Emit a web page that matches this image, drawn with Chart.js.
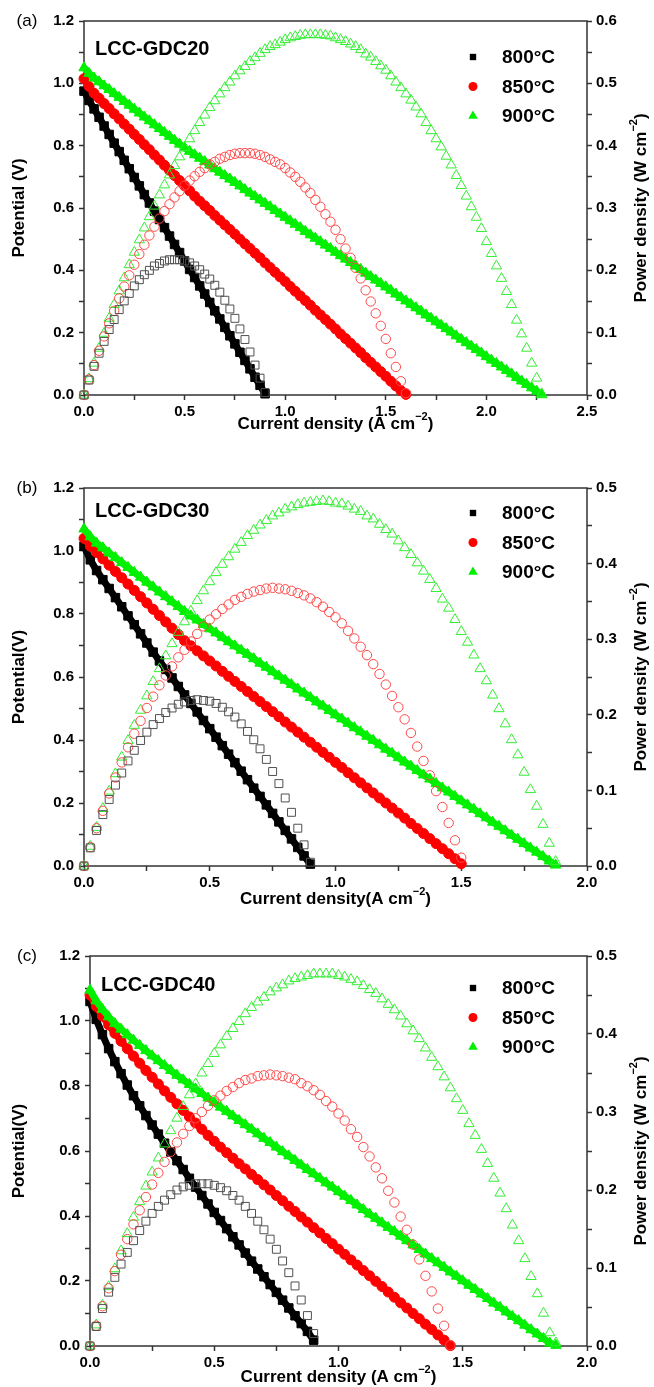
<!DOCTYPE html>
<html>
<head>
<meta charset="utf-8">
<script src="https://cdn.jsdelivr.net/npm/chart.js@4.4.1/dist/chart.umd.min.js"></script>
<style>
  html, body { margin: 0; padding: 0; background: #fff; }
  body { width: 654px; height: 1387px; position: relative; overflow: hidden; }
  canvas { position: absolute; left: 0; }
</style>
</head>
<body>
<canvas id="chartA" width="654" height="462" style="top:0px"></canvas>
<canvas id="chartB" width="654" height="463" style="top:462px"></canvas>
<canvas id="chartC" width="654" height="462" style="top:925px"></canvas>
<script>
// ---- data ----
const temps = ['800°C', '850°C', '900°C'];
const samples = ['LCC-GDC20', 'LCC-GDC30', 'LCC-GDC40'];

const xTicksA = [0, 0.5, 1, 1.5, 2, 2.5];
const xTicksBC = [0, 0.5, 1, 1.5, 2];
const vTicks = [0, 0.2, 0.4, 0.6, 0.8, 1.0, 1.2];
const pTicksA = [0, 0.1, 0.2, 0.3, 0.4, 0.5, 0.6];
const pTicksBC = [0, 0.1, 0.2, 0.3, 0.4, 0.5];

// current density (A cm-2)
const currentA = [0, 0.025, 0.05, 0.075, 0.1, 0.125, 0.15, 0.175, 0.2, 0.225, 0.25, 0.275, 0.3, 0.325, 0.35, 0.375, 0.4, 0.425, 0.45, 0.475,
  0.5, 0.525, 0.55, 0.575, 0.6, 0.625, 0.65, 0.675, 0.7, 0.725, 0.75, 0.775, 0.8, 0.825, 0.85, 0.875, 0.9, 0.925, 0.95, 0.975,
  1, 1.025, 1.05, 1.075, 1.1, 1.125, 1.15, 1.175, 1.2, 1.225, 1.25, 1.275, 1.3, 1.325, 1.35, 1.375, 1.4, 1.425, 1.45, 1.475,
  1.5, 1.525, 1.55, 1.575, 1.6, 1.625, 1.65, 1.675, 1.7, 1.725, 1.75, 1.775, 1.8, 1.825, 1.85, 1.875, 1.9, 1.925, 1.95, 1.975,
  2, 2.025, 2.05, 2.075, 2.1, 2.125, 2.15, 2.175, 2.2, 2.225, 2.25, 2.275];
const currentBC = [0, 0.025, 0.05, 0.075, 0.1, 0.125, 0.15, 0.175, 0.2, 0.225, 0.25, 0.275, 0.3, 0.325, 0.35, 0.375, 0.4, 0.425, 0.45, 0.475,
  0.5, 0.525, 0.55, 0.575, 0.6, 0.625, 0.65, 0.675, 0.7, 0.725, 0.75, 0.775, 0.8, 0.825, 0.85, 0.875, 0.9, 0.925, 0.95, 0.975,
  1, 1.025, 1.05, 1.075, 1.1, 1.125, 1.15, 1.175, 1.2, 1.225, 1.25, 1.275, 1.3, 1.325, 1.35, 1.375, 1.4, 1.425, 1.45, 1.475,
  1.5, 1.525, 1.55, 1.575, 1.6, 1.625, 1.65, 1.675, 1.7, 1.725, 1.75, 1.775, 1.8, 1.825, 1.85, 1.875];

// (a) LCC-GDC20 : potential (V) and power density (W cm-2)
const a800V = [0.975, 0.945, 0.918, 0.891, 0.863, 0.836, 0.808, 0.781, 0.753, 0.726, 0.698, 0.671, 0.643, 0.616, 0.590, 0.563, 0.537, 0.510, 0.483, 0.457,
  0.430, 0.403, 0.377, 0.350, 0.324, 0.297, 0.270, 0.244, 0.217, 0.190, 0.164, 0.137, 0.111, 0.084, 0.057, 0.031, 0.004];
const a800P = [0, 0.024, 0.046, 0.067, 0.086, 0.105, 0.121, 0.137, 0.151, 0.163, 0.175, 0.185, 0.193, 0.200, 0.207, 0.211, 0.215, 0.217, 0.217, 0.217,
  0.215, 0.212, 0.207, 0.201, 0.194, 0.186, 0.176, 0.165, 0.152, 0.138, 0.123, 0.106, 0.089, 0.069, 0.048, 0.027, 0.004];
const a850V = [1.015, 0.990, 0.968, 0.952, 0.935, 0.919, 0.902, 0.886, 0.869, 0.853, 0.836, 0.820, 0.803, 0.787, 0.770, 0.754, 0.737, 0.721, 0.704, 0.688,
  0.671, 0.655, 0.638, 0.622, 0.607, 0.592, 0.576, 0.561, 0.546, 0.531, 0.516, 0.500, 0.485, 0.470, 0.455, 0.440, 0.424, 0.409, 0.394, 0.379,
  0.364, 0.348, 0.333, 0.318, 0.303, 0.288, 0.272, 0.257, 0.242, 0.227, 0.212, 0.196, 0.181, 0.166, 0.151, 0.136, 0.120, 0.105, 0.090, 0.075,
  0.060, 0.044, 0.029, 0.014, 0.002];
const a850P = [0, 0.025, 0.048, 0.071, 0.094, 0.115, 0.135, 0.155, 0.174, 0.192, 0.209, 0.226, 0.241, 0.256, 0.270, 0.283, 0.295, 0.306, 0.317, 0.327,
  0.336, 0.344, 0.351, 0.358, 0.364, 0.370, 0.374, 0.379, 0.382, 0.385, 0.387, 0.388, 0.388, 0.388, 0.387, 0.385, 0.382, 0.378, 0.374, 0.370,
  0.364, 0.357, 0.350, 0.342, 0.333, 0.324, 0.313, 0.302, 0.290, 0.278, 0.265, 0.250, 0.235, 0.220, 0.204, 0.187, 0.168, 0.150, 0.131, 0.111,
  0.090, 0.067, 0.045, 0.022, 0.003];
const a900V = [1.050, 1.032, 1.017, 1.005, 0.992, 0.980, 0.967, 0.955, 0.942, 0.930, 0.917, 0.905, 0.892, 0.880, 0.867, 0.855, 0.842, 0.830, 0.817, 0.805,
  0.793, 0.782, 0.771, 0.760, 0.749, 0.738, 0.726, 0.715, 0.704, 0.693, 0.682, 0.671, 0.659, 0.648, 0.637, 0.626, 0.615, 0.604, 0.592, 0.581,
  0.570, 0.559, 0.548, 0.537, 0.525, 0.514, 0.503, 0.492, 0.481, 0.470, 0.458, 0.447, 0.436, 0.425, 0.414, 0.403, 0.391, 0.380, 0.369, 0.358,
  0.347, 0.336, 0.324, 0.313, 0.302, 0.291, 0.280, 0.269, 0.257, 0.246, 0.235, 0.224, 0.213, 0.202, 0.190, 0.179, 0.168, 0.157, 0.146, 0.135,
  0.123, 0.112, 0.101, 0.090, 0.079, 0.068, 0.056, 0.045, 0.034, 0.023, 0.012, 0.001];
const a900P = [0, 0.026, 0.051, 0.075, 0.099, 0.123, 0.145, 0.167, 0.188, 0.209, 0.229, 0.249, 0.268, 0.286, 0.303, 0.321, 0.337, 0.353, 0.368, 0.382,
  0.397, 0.411, 0.424, 0.437, 0.449, 0.461, 0.472, 0.483, 0.493, 0.502, 0.512, 0.520, 0.527, 0.535, 0.541, 0.548, 0.554, 0.559, 0.562, 0.566,
  0.570, 0.573, 0.575, 0.577, 0.578, 0.578, 0.578, 0.578, 0.577, 0.576, 0.573, 0.570, 0.567, 0.563, 0.559, 0.554, 0.547, 0.542, 0.535, 0.528,
  0.521, 0.512, 0.502, 0.493, 0.483, 0.473, 0.462, 0.451, 0.437, 0.424, 0.411, 0.398, 0.383, 0.369, 0.352, 0.336, 0.319, 0.302, 0.285, 0.267,
  0.246, 0.227, 0.207, 0.187, 0.166, 0.145, 0.120, 0.098, 0.075, 0.051, 0.027, 0.002];

// (b) LCC-GDC30
const b800V = [1.015, 0.972, 0.938, 0.909, 0.881, 0.852, 0.823, 0.794, 0.766, 0.737, 0.708, 0.679, 0.651, 0.624, 0.597, 0.570, 0.543, 0.516, 0.489, 0.462,
  0.436, 0.409, 0.382, 0.355, 0.328, 0.301, 0.274, 0.247, 0.221, 0.194, 0.167, 0.140, 0.113, 0.086, 0.059, 0.032, 0.006];
const b800P = [0, 0.024, 0.047, 0.068, 0.088, 0.107, 0.123, 0.139, 0.153, 0.166, 0.177, 0.187, 0.195, 0.203, 0.209, 0.214, 0.217, 0.219, 0.220, 0.219,
  0.218, 0.215, 0.210, 0.204, 0.197, 0.188, 0.178, 0.167, 0.155, 0.141, 0.125, 0.109, 0.090, 0.071, 0.050, 0.028, 0.005];
const b850V = [1.040, 1.015, 0.995, 0.975, 0.955, 0.935, 0.915, 0.895, 0.875, 0.855, 0.835, 0.815, 0.795, 0.775, 0.755, 0.735, 0.715, 0.699, 0.683, 0.667,
  0.651, 0.635, 0.618, 0.602, 0.586, 0.570, 0.554, 0.538, 0.522, 0.506, 0.490, 0.474, 0.457, 0.441, 0.425, 0.409, 0.393, 0.377, 0.361, 0.345,
  0.329, 0.313, 0.296, 0.280, 0.264, 0.248, 0.232, 0.216, 0.200, 0.184, 0.168, 0.152, 0.135, 0.119, 0.103, 0.087, 0.071, 0.055, 0.039, 0.023,
  0.007];
const b850P = [0, 0.025, 0.050, 0.073, 0.096, 0.117, 0.137, 0.157, 0.175, 0.192, 0.209, 0.224, 0.239, 0.252, 0.264, 0.276, 0.286, 0.297, 0.307, 0.317,
  0.326, 0.333, 0.340, 0.346, 0.352, 0.356, 0.360, 0.363, 0.365, 0.367, 0.368, 0.367, 0.366, 0.364, 0.361, 0.358, 0.354, 0.349, 0.343, 0.336,
  0.329, 0.321, 0.311, 0.301, 0.290, 0.279, 0.267, 0.254, 0.240, 0.225, 0.210, 0.194, 0.176, 0.158, 0.139, 0.120, 0.099, 0.078, 0.057, 0.034,
  0.011];
const b900V = [1.070, 1.045, 1.025, 1.010, 0.994, 0.979, 0.963, 0.948, 0.932, 0.917, 0.901, 0.886, 0.870, 0.855, 0.839, 0.824, 0.808, 0.794, 0.781, 0.767,
  0.753, 0.740, 0.726, 0.712, 0.699, 0.685, 0.672, 0.658, 0.644, 0.631, 0.617, 0.603, 0.590, 0.576, 0.562, 0.549, 0.535, 0.521, 0.508, 0.494,
  0.480, 0.467, 0.453, 0.439, 0.426, 0.412, 0.399, 0.385, 0.371, 0.358, 0.344, 0.330, 0.317, 0.303, 0.289, 0.276, 0.262, 0.248, 0.235, 0.221,
  0.207, 0.194, 0.180, 0.166, 0.153, 0.139, 0.126, 0.112, 0.098, 0.085, 0.071, 0.057, 0.044, 0.030, 0.016, 0.003];
const b900P = [0, 0.026, 0.051, 0.076, 0.099, 0.122, 0.144, 0.166, 0.186, 0.206, 0.225, 0.244, 0.261, 0.278, 0.294, 0.309, 0.323, 0.337, 0.351, 0.364,
  0.376, 0.388, 0.399, 0.409, 0.419, 0.428, 0.437, 0.444, 0.451, 0.457, 0.463, 0.467, 0.472, 0.475, 0.478, 0.480, 0.481, 0.482, 0.483, 0.482,
  0.480, 0.479, 0.476, 0.472, 0.469, 0.463, 0.459, 0.452, 0.445, 0.439, 0.430, 0.421, 0.412, 0.401, 0.390, 0.379, 0.367, 0.353, 0.341, 0.326,
  0.310, 0.296, 0.279, 0.261, 0.245, 0.226, 0.208, 0.188, 0.167, 0.147, 0.124, 0.101, 0.079, 0.055, 0.030, 0.006];

// (c) LCC-GDC40
const c800V = [1.060, 1.005, 0.958, 0.915, 0.875, 0.838, 0.803, 0.770, 0.739, 0.709, 0.680, 0.652, 0.624, 0.597, 0.570, 0.543, 0.516, 0.489, 0.463, 0.437,
  0.411, 0.386, 0.361, 0.336, 0.311, 0.286, 0.261, 0.237, 0.213, 0.189, 0.165, 0.141, 0.117, 0.093, 0.069, 0.045, 0.018];
const c800P = [0, 0.025, 0.048, 0.069, 0.088, 0.105, 0.120, 0.135, 0.148, 0.160, 0.170, 0.179, 0.187, 0.194, 0.200, 0.204, 0.206, 0.208, 0.208, 0.208,
  0.206, 0.203, 0.199, 0.193, 0.187, 0.179, 0.170, 0.160, 0.149, 0.137, 0.124, 0.109, 0.094, 0.077, 0.059, 0.039, 0.016];
const c850V = [1.080, 1.045, 1.015, 0.988, 0.962, 0.938, 0.915, 0.892, 0.870, 0.848, 0.827, 0.806, 0.785, 0.765, 0.745, 0.725, 0.705, 0.686, 0.667, 0.648,
  0.630, 0.612, 0.595, 0.578, 0.561, 0.545, 0.528, 0.512, 0.496, 0.480, 0.463, 0.447, 0.430, 0.414, 0.397, 0.381, 0.364, 0.348, 0.331, 0.315,
  0.298, 0.282, 0.265, 0.249, 0.232, 0.216, 0.199, 0.183, 0.166, 0.150, 0.133, 0.117, 0.100, 0.084, 0.067, 0.051, 0.034, 0.018, 0.001];
const c850P = [0, 0.026, 0.051, 0.074, 0.096, 0.117, 0.137, 0.156, 0.174, 0.191, 0.207, 0.222, 0.236, 0.249, 0.261, 0.272, 0.282, 0.292, 0.300, 0.308,
  0.315, 0.321, 0.327, 0.332, 0.337, 0.341, 0.343, 0.346, 0.347, 0.348, 0.347, 0.346, 0.344, 0.342, 0.337, 0.333, 0.328, 0.322, 0.314, 0.307,
  0.298, 0.289, 0.278, 0.268, 0.255, 0.243, 0.229, 0.215, 0.199, 0.184, 0.166, 0.149, 0.130, 0.111, 0.090, 0.070, 0.048, 0.026, 0.001];
const c900V = [1.095, 1.062, 1.036, 1.013, 0.992, 0.975, 0.958, 0.941, 0.925, 0.909, 0.893, 0.878, 0.863, 0.848, 0.833, 0.819, 0.805, 0.791, 0.777, 0.763,
  0.749, 0.735, 0.722, 0.708, 0.694, 0.681, 0.667, 0.653, 0.639, 0.626, 0.612, 0.598, 0.585, 0.571, 0.557, 0.543, 0.530, 0.516, 0.502, 0.489,
  0.475, 0.461, 0.448, 0.434, 0.420, 0.406, 0.393, 0.379, 0.365, 0.352, 0.338, 0.324, 0.311, 0.297, 0.283, 0.269, 0.256, 0.242, 0.228, 0.215,
  0.201, 0.187, 0.174, 0.160, 0.146, 0.132, 0.119, 0.105, 0.091, 0.078, 0.064, 0.050, 0.037, 0.023, 0.009, 0.002];
const c900P = [0, 0.027, 0.052, 0.076, 0.099, 0.122, 0.144, 0.165, 0.185, 0.205, 0.223, 0.241, 0.259, 0.276, 0.292, 0.307, 0.322, 0.336, 0.350, 0.362,
  0.375, 0.386, 0.397, 0.407, 0.416, 0.426, 0.434, 0.441, 0.447, 0.454, 0.459, 0.463, 0.468, 0.471, 0.473, 0.475, 0.477, 0.477, 0.477, 0.477,
  0.475, 0.473, 0.470, 0.467, 0.462, 0.457, 0.452, 0.445, 0.438, 0.431, 0.423, 0.413, 0.404, 0.394, 0.382, 0.370, 0.358, 0.345, 0.331, 0.317,
  0.302, 0.285, 0.270, 0.252, 0.234, 0.215, 0.196, 0.176, 0.155, 0.135, 0.112, 0.089, 0.067, 0.042, 0.017, 0.004];

// ---- styling ----
const FONT = "'Liberation Sans', Arial, Helvetica, sans-serif";
Chart.defaults.font.family = FONT;
Chart.defaults.color = '#000';

const colV = ['#000000', '#ff0000', '#00f000'];
const colP = ['#505050', '#ff4848', '#33ee33'];
const shapes = ['rect', 'circle', 'triangle'];
const radV = [6, 5, 6];
const radP = [5.6, 4.7, 5.9];

const panels = [
  { id: 'chartA', h: 462, tag: '(a)', sample: samples[0], current: currentA,
    volt: [a800V, a850V, a900V], power: [a800P, a850P, a900P],
    xTicks: xTicksA, pTicks: pTicksA,
    xTitle: ['Current density (A cm', '\u22122', ')'], vTitle: 'Potential (V)',
    area: { top: 21, bottom: 395, left: 84, right: 587 }, sampleY: 28, legendY: 36, xTitleY: 29 },
  { id: 'chartB', h: 463, tag: '(b)', sample: samples[1], current: currentBC,
    volt: [b800V, b850V, b900V], power: [b800P, b850P, b900P],
    xTicks: xTicksBC, pTicks: pTicksBC,
    xTitle: ['Current density(A cm', '\u22122', ')'], vTitle: 'Potential(V)',
    area: { top: 26, bottom: 404, left: 84, right: 587 }, sampleY: 23, legendY: 25, xTitleY: 33 },
  { id: 'chartC', h: 462, tag: '(c)', sample: samples[2], current: currentBC,
    volt: [c800V, c850V, c900V], power: [c800P, c850P, c900P],
    xTicks: xTicksBC, pTicks: pTicksBC,
    xTitle: ['Current density (A cm', '\u22122', ')'], vTitle: 'Potential(V)',
    area: { top: 31, bottom: 421, left: 90, right: 587 }, sampleY: 29, legendY: 32, xTitleY: 31 }
];

// text with superscripts: odd entries of parts are raised
function drawRich(ctx, parts, x, y, size, rotate) {
  const base = 'bold ' + size + 'px ' + FONT;
  const sup = 'bold ' + Math.round(size * 0.65) + 'px ' + FONT;
  let total = 0;
  const widths = parts.map((t, i) => {
    ctx.font = i % 2 ? sup : base;
    const w = ctx.measureText(t).width;
    total += w;
    return w;
  });
  ctx.save();
  ctx.translate(x, y);
  if (rotate) ctx.rotate(-Math.PI / 2);
  ctx.textBaseline = 'middle';
  ctx.textAlign = 'left';
  ctx.fillStyle = '#000';
  let cx = -total / 2;
  parts.forEach((t, i) => {
    ctx.font = i % 2 ? sup : base;
    ctx.fillText(t, cx, i % 2 ? -size * 0.4 : 0);
    cx += widths[i];
  });
  ctx.restore();
}

function drawMarker(ctx, style, x, y, r, color) {
  ctx.beginPath();
  if (style === 'rect') {
    const s = r * Math.SQRT1_2;
    ctx.rect(x - s, y - s, 2 * s, 2 * s);
  } else if (style === 'circle') {
    ctx.arc(x, y, r, 0, Math.PI * 2);
  } else {
    for (let k = 0; k < 3; k++) {
      const a = k * 2 * Math.PI / 3;
      if (k) ctx.lineTo(x + Math.sin(a) * r, y - Math.cos(a) * r);
      else ctx.moveTo(x + Math.sin(a) * r, y - Math.cos(a) * r);
    }
    ctx.closePath();
  }
  ctx.fillStyle = color;
  ctx.fill();
}

const panelPlugin = {
  id: 'panel',
  beforeDatasetsDraw(chart) {
    const { ctx, chartArea: a } = chart;
    ctx.save();
    ctx.strokeStyle = '#333';
    ctx.lineWidth = 1.5;
    ctx.strokeRect(a.left, a.top, a.right - a.left, a.bottom - a.top);
    ctx.restore();
  },
  afterDraw(chart, args, opts) {
    const { ctx, chartArea: a } = chart;
    const midY = (a.top + a.bottom) / 2;
    ctx.save();
    // panel tag
    ctx.font = '17px ' + FONT;
    ctx.fillStyle = '#000';
    ctx.textAlign = 'center';
    ctx.textBaseline = 'middle';
    ctx.fillText(opts.tag, 27, a.top);
    // sample name
    ctx.font = 'bold 20px ' + FONT;
    ctx.textAlign = 'left';
    ctx.fillText(opts.sample, a.left + 11, a.top + opts.sampleY);
    // legend (filled V series)
    const vsets = chart.data.datasets.filter(d => d.yAxisID === 'y');
    vsets.forEach((d, i) => {
      const y = a.top + opts.legendY + i * 29.5;
      drawMarker(ctx, d.pointStyle, 473, y, d.legendR, d.backgroundColor);
      ctx.font = 'bold 19px ' + FONT;
      ctx.fillStyle = '#000';
      ctx.textAlign = 'left';
      ctx.textBaseline = 'middle';
      ctx.fillText(d.label, 502, y + 1);
    });
    ctx.restore();
    // axis titles
    drawRich(ctx, [opts.vTitle], 19, midY, 17, true);
    drawRich(ctx, ['Power density (W cm', '\u22122', ')'], 641, midY, 17, true);
    drawRich(ctx, opts.xTitle, (a.left + a.right) / 2, a.bottom + opts.xTitleY, 17, false);
  }
};

function withMinors(majors) {
  return (scale) => {
    const t = [];
    majors.forEach((v, i) => {
      t.push({ value: v });
      if (i < majors.length - 1) t.push({ value: (v + majors[i + 1]) / 2, minor: true });
    });
    scale.ticks = t;
  };
}
const tickLabel = (value, index, ticks) => (ticks[index].minor ? '' : value.toFixed(1));
const tickFont = { size: 15, weight: 'bold' };
const gridOpts = { display: true, drawOnChartArea: false, drawTicks: true, tickLength: 5, tickColor: '#333', tickWidth: 1.5 };

function makePanel(p) {
  const datasets = [];
  p.volt.forEach((v, i) => datasets.push({
    label: temps[i], data: v, yAxisID: 'y', xAxisID: 'x',
    pointStyle: shapes[i], pointRadius: radV[i], legendR: shapes[i] === 'triangle' ? 5.5 : 4.5,
    backgroundColor: colV[i], borderColor: colV[i],
    pointBackgroundColor: colV[i], pointBorderColor: colV[i], pointBorderWidth: 1,
    showLine: true, borderWidth: 7, tension: 0, clip: false, order: 5 - i
  }));
  p.power.forEach((v, i) => datasets.push({
    label: temps[i] + ' power', data: v, yAxisID: 'y2', xAxisID: 'x',
    pointStyle: shapes[i], pointRadius: radP[i],
    backgroundColor: 'rgba(0,0,0,0)', borderColor: colP[i],
    pointBackgroundColor: 'rgba(0,0,0,0)', pointBorderColor: colP[i], pointBorderWidth: 1,
    showLine: false, clip: false, order: i
  }));
  const a = p.area;
  return new Chart(document.getElementById(p.id), {
    type: 'line',
    data: { labels: p.current, datasets },
    options: {
      responsive: false,
      animation: false,
      devicePixelRatio: 1,
      events: [],
      layout: { padding: { top: a.top, left: 0, right: 0, bottom: 0 } },
      scales: {
        x: {
          type: 'linear', position: 'bottom',
          min: 0, max: p.xTicks[p.xTicks.length - 1],
          afterBuildTicks: withMinors(p.xTicks),
          afterFit: (s) => { s.height = p.h - a.bottom; },
          ticks: { callback: tickLabel, autoSkip: false, maxRotation: 0, font: tickFont, color: '#000', padding: 3 },
          grid: gridOpts, border: { display: false }
        },
        y: {
          type: 'linear', position: 'left',
          min: 0, max: 1.2,
          afterBuildTicks: withMinors(vTicks),
          afterFit: (s) => { s.width = a.left; },
          ticks: { callback: tickLabel, autoSkip: false, font: tickFont, color: '#000', padding: 5 },
          grid: gridOpts, border: { display: false }
        },
        y2: {
          type: 'linear', position: 'right',
          min: 0, max: p.pTicks[p.pTicks.length - 1],
          afterBuildTicks: withMinors(p.pTicks),
          afterFit: (s) => { s.width = 654 - a.right; },
          ticks: { callback: tickLabel, autoSkip: false, font: tickFont, color: '#000', padding: 4 },
          grid: gridOpts, border: { display: false }
        }
      },
      plugins: {
        legend: { display: false },
        tooltip: { enabled: false },
        panel: { tag: p.tag, sample: p.sample, vTitle: p.vTitle, xTitle: p.xTitle,
                 sampleY: p.sampleY, legendY: p.legendY, xTitleY: p.xTitleY }
      }
    },
    plugins: [panelPlugin]
  });
}

panels.forEach(makePanel);
</script>
</body>
</html>
